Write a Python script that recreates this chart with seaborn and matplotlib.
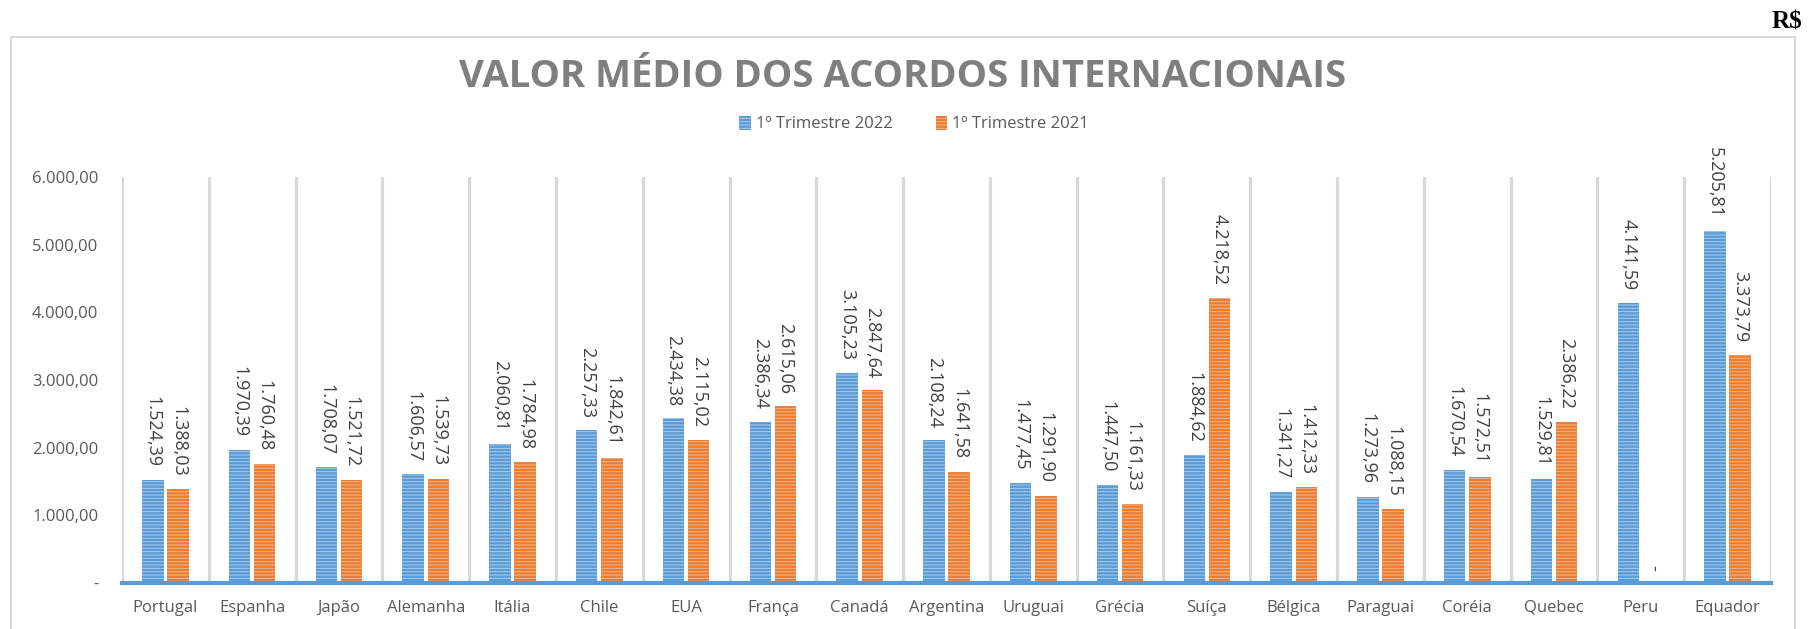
import numpy as np
import pandas as pd
import matplotlib
matplotlib.use("Agg")
import matplotlib.pyplot as plt
from matplotlib.patches import Patch, Rectangle
from matplotlib.ticker import FixedLocator, FuncFormatter
import seaborn as sns

# ---- data ----
paises = ["Portugal", "Espanha", "Japão", "Alemanha", "Itália", "Chile", "EUA", "França",
          "Canadá", "Argentina", "Uruguai", "Grécia", "Suíça", "Bélgica", "Paraguai",
          "Coréia", "Quebec", "Peru", "Equador"]
tri_2022 = [1524.39, 1970.39, 1708.07, 1606.57, 2060.81, 2257.33, 2434.38, 2386.34,
            3105.23, 2108.24, 1477.45, 1447.50, 1884.62, 1341.27, 1273.96,
            1670.54, 1529.81, 4141.59, 5205.81]
tri_2021 = [1388.03, 1760.48, 1521.72, 1539.73, 1784.98, 1842.61, 2115.02, 2615.06,
            2847.64, 1641.58, 1291.90, 1161.33, 4218.52, 1412.33, 1088.15,
            1572.51, 2386.22, 0.0, 3373.79]
series = ["1º Trimestre 2022", "1º Trimestre 2021"]
y_ticks = [0, 1000, 2000, 3000, 4000, 5000, 6000]
titulo = "VALOR MÉDIO DOS ACORDOS INTERNACIONAIS"

df = pd.DataFrame({
    "pais": paises * 2,
    "serie": [series[0]] * len(paises) + [series[1]] * len(paises),
    "valor": tri_2022 + tri_2021,
})

def fmt_br(v):
    if v == 0:
        return "-"
    s = f"{v:,.2f}"
    return s.replace(",", "X").replace(".", ",").replace("X", ".")

sns.set_theme(style="white")
plt.rcParams["font.family"] = ["Open Sans", "DejaVu Sans"]
plt.rcParams["hatch.linewidth"] = 0.7

W, H = 1809, 629
fig = plt.figure(figsize=(W / 100, H / 100), dpi=100)
ax = fig.add_axes([122 / W, 1 - 583 / H, (1771 - 122) / W, (583 - 177) / H])

blue, orange = "#5b9bd5", "#ed7d31"
blue_h, orange_h = "#a9cbec", "#f6b68c"
palette = {series[0]: blue, series[1]: orange}

sns.barplot(data=df, x="pais", y="valor", hue="serie", hue_order=series, order=paises,
            palette=palette, width=0.58, gap=0.15, saturation=1, legend=False,
            errorbar=None, ax=ax, zorder=2)

hatch_cols = [blue_h, orange_h]
for cont, hc, vals in zip(ax.containers, hatch_cols, [tri_2022, tri_2021]):
    for b in cont:
        b.set_hatch("-----")
        b.set_edgecolor(hc)
        b.set_linewidth(0)
    ax.bar_label(cont, labels=[fmt_br(v) for v in vals], rotation=-90, padding=9,
                 fontsize=13, color="#404040")

ax.set_xlim(-0.5, len(paises) - 0.5)
ax.set_ylim(0, 6000)
ax.set_yticks(y_ticks)
ax.yaxis.set_major_formatter(FuncFormatter(lambda v, p: fmt_br(v) if v != 0 else "-"))
ax.xaxis.set_minor_locator(FixedLocator(np.arange(-0.5, len(paises), 1.0)))
ax.grid(which="minor", axis="x", color="#d9d9d9", linewidth=2.4, zorder=0)
ax.grid(which="major", visible=False)
ax.set_axisbelow(True)
ax.tick_params(axis="both", which="both", length=0)
ax.tick_params(axis="x", pad=12, labelsize=12, labelcolor="#595959")
ax.tick_params(axis="y", pad=17, labelsize=12, labelcolor="#595959")
ax.set_xlabel("")
ax.set_ylabel("")
for s in ["top", "right", "left"]:
    ax.spines[s].set_visible(False)
ax.spines["bottom"].set_color(blue)
ax.spines["bottom"].set_linewidth(3)
ax.spines["bottom"].set_zorder(5)
ax.patch.set_alpha(0)

# outer chart frame
fig.patches.append(Rectangle((11 / W, -0.05), (1795 - 11) / W, 1.05 - 37 / H,
                             transform=fig.transFigure, fill=False,
                             edgecolor="#d9d9d9", linewidth=1.5, zorder=0))

fig.text(903 / W, 1 - 77 / H, titulo, ha="center", va="center", fontsize=27.5,
         fontweight="bold", color="#7f7f7f")
fig.text(1802 / W, 1 - 22 / H, "R$", ha="right", va="center", fontsize=18,
         fontweight="bold", family="Liberation Serif", color="black")

handles = [Patch(facecolor=blue, edgecolor=blue_h, hatch="-----", linewidth=0),
           Patch(facecolor=orange, edgecolor=orange_h, hatch="-----", linewidth=0)]
fig.legend(handles, series, loc="center", bbox_to_anchor=(914 / W, 1 - 124 / H), ncol=2,
           frameon=False, fontsize=12, handlelength=0.7, handleheight=0.9,
           handletextpad=0.3, columnspacing=2.6, labelcolor="#595959")

fig.savefig("out.png", dpi=100)
